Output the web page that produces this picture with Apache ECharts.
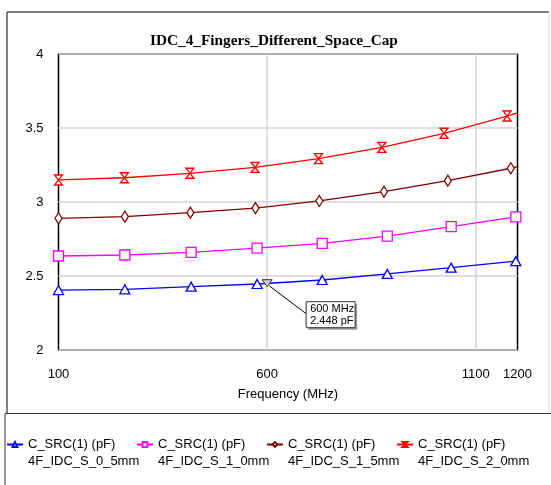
<!DOCTYPE html>
<html><head><meta charset="utf-8">
<script src="https://cdn.jsdelivr.net/npm/echarts@6/dist/echarts.min.js"></script>
<style>html,body{margin:0;padding:0;background:#fff}#c{width:551px;height:485px}</style>
</head><body><div id="c"></div>
<script>
const titleText = 'IDC_4_Fingers_Different_Space_Cap';
const xAxisName = 'Frequency (MHz)';
const xTickValues = [100, 600, 1100, 1200];
const xGridValues = [600, 1100];
const legendLine1 = 'C_SRC(1) (pF)';
const seriesNames = ['4F_IDC_S_0_5mm', '4F_IDC_S_1_0mm', '4F_IDC_S_1_5mm', '4F_IDC_S_2_0mm'];

const freqS05 = [100, 259, 418, 576, 732, 888, 1041, 1196, 1200];
const capS05  = [2.405, 2.410, 2.428, 2.446, 2.473, 2.514, 2.556, 2.600, 2.604];
const freqS10 = [100, 259, 418, 576, 732, 888, 1041, 1196, 1200];
const capS10  = [2.635, 2.642, 2.660, 2.689, 2.721, 2.770, 2.833, 2.900, 2.905];
const freqS15 = [100, 259, 416, 572, 725, 880, 1033, 1184, 1200];
const capS15  = [2.890, 2.901, 2.928, 2.959, 3.007, 3.070, 3.144, 3.228, 3.239];
const freqS20 = [100, 258, 415, 571, 723, 875, 1024, 1175, 1200];
const capS20  = [3.149, 3.164, 3.194, 3.234, 3.293, 3.369, 3.464, 3.581, 3.603];

const markerFreq = 600;
const markerCap = 2.448;
const markerText = ['600 MHz', '2.448 pF'];

const colors = ['#0000ff', '#ff00ff', '#800000', '#ff0000'];
const symbols = ['triangle', 'rect', 'diamond', 'path://M0,0L10,0L0,12L10,12Z'];
const symbolSizes = [[10, 9], [10, 10], [7, 11], [8, 10]];
const freqs = [freqS05, freqS10, freqS15, freqS20];
const caps = [capS05, capS10, capS15, capS20];

const FONT = '"Liberation Sans", Arial, sans-serif';

function buildData(f, c) {
  return f.map((x, i) => {
    const item = { value: [x, c[i]] };
    if (i === f.length - 1) item.symbol = 'none';
    return item;
  });
}

const series = seriesNames.map((n, i) => ({
  name: n,
  type: 'line',
  data: buildData(freqs[i], caps[i]),
  smooth: false,
  symbol: symbols[i],
  symbolSize: symbolSizes[i],
  showAllSymbol: true,
  lineStyle: { color: colors[i], width: 1.3 },
  itemStyle: { color: '#fff', borderColor: colors[i], borderWidth: 1.3 },
  emphasis: { disabled: true },
  z: 3
}));

series.push({
  name: 'grid',
  type: 'line',
  data: [],
  silent: true,
  z: 1,
  markLine: {
    silent: true,
    z: 1,
    symbol: 'none',
    label: { show: false },
    lineStyle: { color: '#d4d4d4', width: 1.5, type: 'solid' },
    data: xGridValues.map(v => ({ xAxis: v }))
  }
});

const legendLefts = [6, 136, 266, 396];
const legends = seriesNames.map((n, i) => ({
  data: [n],
  left: legendLefts[i],
  top: 419,
  padding: 0,
  orient: 'horizontal',
  itemWidth: 16,
  itemHeight: 6,
  selectedMode: false,
  formatter: name => '\n' + legendLine1 + '\n' + name,
  textStyle: { fontFamily: FONT, fontSize: 13, color: '#000', lineHeight: 17 }
}));

const chart = echarts.init(document.getElementById('c'), null, { renderer: 'canvas' });
chart.setOption({
  animation: false,
  backgroundColor: '#fff',
  title: {
    text: titleText,
    left: 150, top: 34, padding: 0,
    textStyle: { fontFamily: '"Liberation Serif", "Times New Roman", serif', fontWeight: 'bold', fontSize: 15.3, color: '#000' }
  },
  legend: legends,
  grid: {
    left: 58.5, top: 54, width: 459, height: 296,
    show: true, borderColor: '#000', borderWidth: 1.5, backgroundColor: 'transparent'
  },
  xAxis: {
    type: 'value', min: 100, max: 1200,
    name: xAxisName, nameLocation: 'middle', nameGap: 38,
    nameTextStyle: { fontFamily: FONT, fontSize: 13, color: '#000' },
    axisLine: { show: false },
    axisTick: { show: false },
    splitLine: { show: false },
    axisLabel: { customValues: xTickValues, formatter: v => String(v), fontFamily: FONT, fontSize: 13, color: '#000', margin: 18, showMinLabel: true, showMaxLabel: true }
  },
  yAxis: {
    type: 'value', min: 2, max: 4, interval: 0.5,
    axisLine: { show: false },
    axisTick: { show: false },
    splitLine: { show: true, lineStyle: { color: '#d4d4d4', width: 1.5 } },
    axisLabel: { fontFamily: FONT, fontSize: 13, color: '#000', margin: 15, padding: [3, 0, 0, 0] }
  },
  series: series
});

const p = chart.convertToPixel({ gridIndex: 0 }, [markerFreq, markerCap]);
const bx = p[0] + 39, by = p[1] + 18;
chart.setOption({
  graphic: [
    { type: 'polyline', silent: true, z: 0, shape: { points: [[7, 413], [7, 12], [549, 12]] }, style: { stroke: '#000', lineWidth: 1, fill: null } },
    { type: 'line', silent: true, z: 0, shape: { x1: 549, y1: 12, x2: 549, y2: 413 }, style: { stroke: '#d8d8d8', lineWidth: 1 } },
    { type: 'polyline', silent: true, z: 0, shape: { points: [[5, 485], [5, 413.5], [551, 413.5]] }, style: { stroke: '#333', lineWidth: 1, fill: null } },
    { type: 'line', silent: true, z: 10, shape: { x1: p[0] + 2, y1: p[1] + 2, x2: bx, y2: by + 12 }, style: { stroke: '#000', lineWidth: 1 } },
    { type: 'polygon', silent: true, z: 11, shape: { points: [[p[0] - 5, p[1] - 4], [p[0] + 5, p[1] - 4], [p[0], p[1] + 3]] }, style: { fill: '#cfcfcf', stroke: '#333', lineWidth: 1 } },
    { type: 'rect', silent: true, z: 10, shape: { x: bx + 2, y: by + 2, width: 49, height: 26 }, style: { fill: '#9a9a9a' } },
    { type: 'rect', silent: true, z: 11, shape: { x: bx, y: by, width: 49, height: 26 }, style: { fill: '#fff', stroke: '#333', lineWidth: 1 } },
    { type: 'text', silent: true, z: 12, x: bx + 4, y: by + 1, style: { text: markerText.join('\n'), fontFamily: FONT, fontSize: 11, lineHeight: 12.5, fill: '#000' } }
  ]
});
</script></body></html>
